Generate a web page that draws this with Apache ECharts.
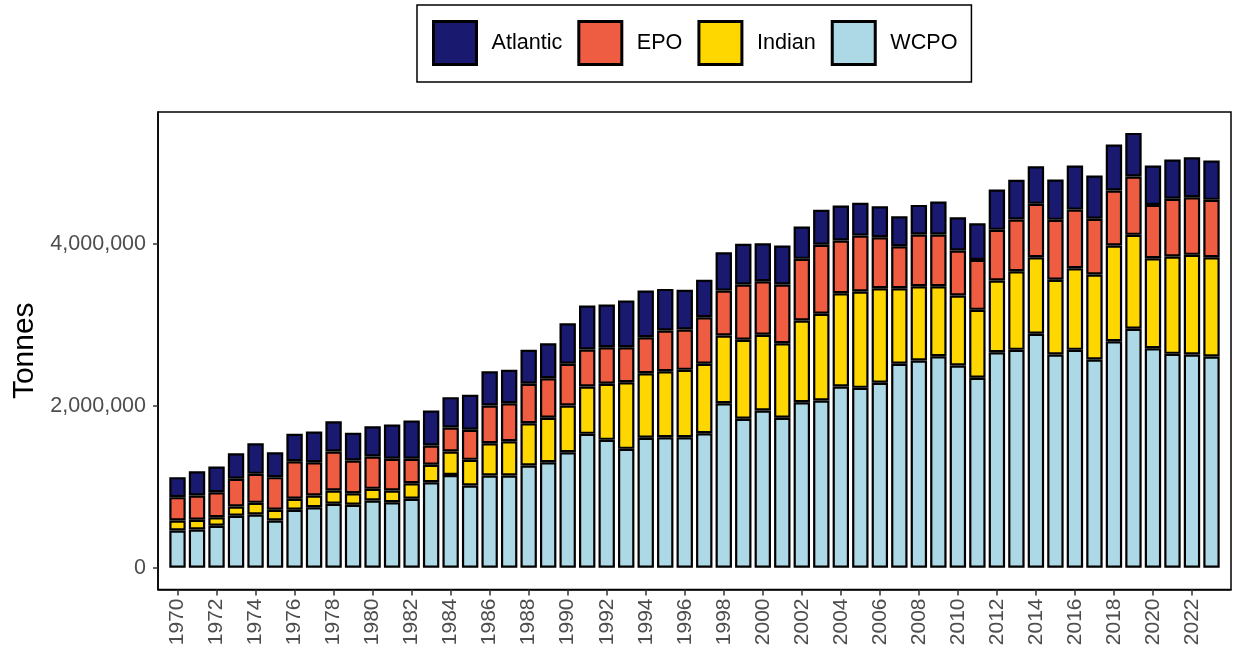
<!DOCTYPE html>
<html>
<head>
<meta charset="utf-8">
<title>Tonnes by ocean</title>
<script src="https://cdn.jsdelivr.net/npm/echarts@6.0.0/dist/echarts.min.js"></script>
<style>
  html, body { margin: 0; padding: 0; background: #fff; }
  #chart { width: 1235px; height: 656px; }
</style>
</head>
<body>
<div id="chart"></div>
<script>
// years on the x axis
var years = [];
for (var y = 1970; y <= 2023; y++) years.push(y);

// catch by ocean, tonnes
var wcpo = [460000, 473000, 519000, 642000, 658000, 584000, 716000, 748000, 790000, 778000,
    831000, 810000, 852000, 1057000, 1146000, 1016000, 1140000, 1140000, 1263000, 1304000,
    1427000, 1654000, 1580000, 1469000, 1605000, 1612000, 1612000, 1662000, 2032000, 1840000,
    1942000, 1852000, 2045000, 2065000, 2238000, 2222000, 2284000, 2519000, 2559000, 2612000,
    2498000, 2346000, 2662000, 2691000, 2889000, 2633000, 2691000, 2572000, 2798000, 2951000,
    2711000, 2642000, 2633000, 2609000];
var indian = [124000, 120000, 106000, 115000, 144000, 132000, 136000, 145000, 164000, 143000,
    144000, 144000, 192000, 215000, 290000, 317000, 398000, 423000, 522000, 548000,
    577000, 584000, 692000, 822000, 798000, 815000, 832000, 857000, 836000, 975000,
    935000, 921000, 1008000, 1071000, 1152000, 1189000, 1168000, 933000, 918000, 865000,
    864000, 839000, 885000, 971000, 946000, 923000, 1008000, 1049000, 1181000, 1160000,
    1111000, 1201000, 1231000, 1226000];
var epo = [288000, 300000, 308000, 342000, 358000, 403000, 464000, 411000, 482000, 404000,
    399000, 392000, 302000, 238000, 296000, 371000, 466000, 469000, 487000, 489000,
    515000, 457000, 452000, 433000, 444000, 503000, 498000, 575000, 555000, 683000,
    661000, 725000, 762000, 852000, 651000, 691000, 629000, 518000, 638000, 638000,
    555000, 617000, 626000, 638000, 659000, 740000, 724000, 688000, 679000, 720000,
    659000, 713000, 711000, 708000];
var atlantic = [247000, 300000, 318000, 316000, 378000, 308000, 338000, 379000, 374000, 342000,
    374000, 423000, 473000, 432000, 375000, 432000, 423000, 412000, 419000, 432000,
    501000, 543000, 527000, 576000, 576000, 514000, 490000, 462000, 473000, 502000,
    469000, 481000, 399000, 432000, 432000, 404000, 383000, 371000, 366000, 407000,
    411000, 452000, 497000, 490000, 464000, 498000, 544000, 534000, 568000, 539000,
    486000, 485000, 494000, 487000];

var yTicks = [0, 2000000, 4000000];

var names = ['WCPO', 'Indian', 'EPO', 'Atlantic'];
var colors = ['#ADD8E6', '#FFD700', '#EE5C42', '#191970'];
var values = [wcpo, indian, epo, atlantic];

// one empty year each side, like the padding of the original panel
var axisYears = [years[0] - 1].concat(years, [years[years.length - 1] + 1]);

function isTickYear(idx, val) {
    var v = Number(val);
    return v % 2 === 0 && v >= years[0] && v <= years[years.length - 1];
}

var series = [];
for (var i = 0; i < names.length; i++) {
    series.push({
        name: names[i],
        type: 'bar',
        stack: 'total',
        barWidth: '84%',
        data: [null].concat(values[i], [null]),
        itemStyle: { color: colors[i], borderColor: '#000', borderWidth: 2.2 },
        emphasis: { disabled: true }
    });
}

var chart = echarts.init(document.getElementById('chart'), null, { renderer: 'canvas' });
chart.setOption({
    backgroundColor: '#ffffff',
    animation: false,
    textStyle: { fontFamily: 'Liberation Sans, Arial, sans-serif' },
    legend: {
        data: ['Atlantic', 'EPO', 'Indian', 'WCPO'],
        left: 417,
        top: 5,
        padding: [15, 14, 16, 15],
        borderColor: '#000',
        borderWidth: 1.5,
        icon: 'rect',
        itemWidth: 43,
        itemHeight: 43,
        itemGap: 15,
        itemStyle: { borderColor: '#000', borderWidth: 3 },
        selectedMode: false,
        textStyle: { fontSize: 21.6, color: '#000', padding: [0, 0, 0, 10] }
    },
    grid: {
        left: 158,
        right: 4,
        top: 112,
        bottom: 66.5,
        show: true,
        borderColor: '#000',
        borderWidth: 1.5,
        containLabel: false,
        outerBoundsMode: 'none'
    },
    xAxis: {
        type: 'category',
        data: axisYears,
        boundaryGap: false,
        axisLine: { show: true, onZero: false, lineStyle: { color: '#000', width: 1.5 } },
        axisTick: { show: true, interval: isTickYear, length: 6, lineStyle: { color: '#333', width: 1.5 } },
        axisLabel: { interval: isTickYear, rotate: 90, margin: 9, fontSize: 21, color: '#4d4d4d' },
        splitLine: { show: false }
    },
    yAxis: {
        type: 'value',
        min: -268000,
        max: 5628000,
        name: 'Tonnes',
        nameLocation: 'middle',
        nameGap: 117,
        nameTextStyle: { fontSize: 30, color: '#000' },
        axisLine: { show: true, lineStyle: { color: '#000', width: 1.5 } },
        axisTick: { show: true, customValues: yTicks, length: 5, lineStyle: { color: '#333', width: 1.5 } },
        axisLabel: {
            customValues: yTicks,
            margin: 12,
            fontSize: 21.5,
            color: '#4d4d4d',
            formatter: function (v) { return Number(v).toLocaleString('en-US'); }
        },
        splitLine: { show: false }
    },
    series: series
});
</script>
</body>
</html>
